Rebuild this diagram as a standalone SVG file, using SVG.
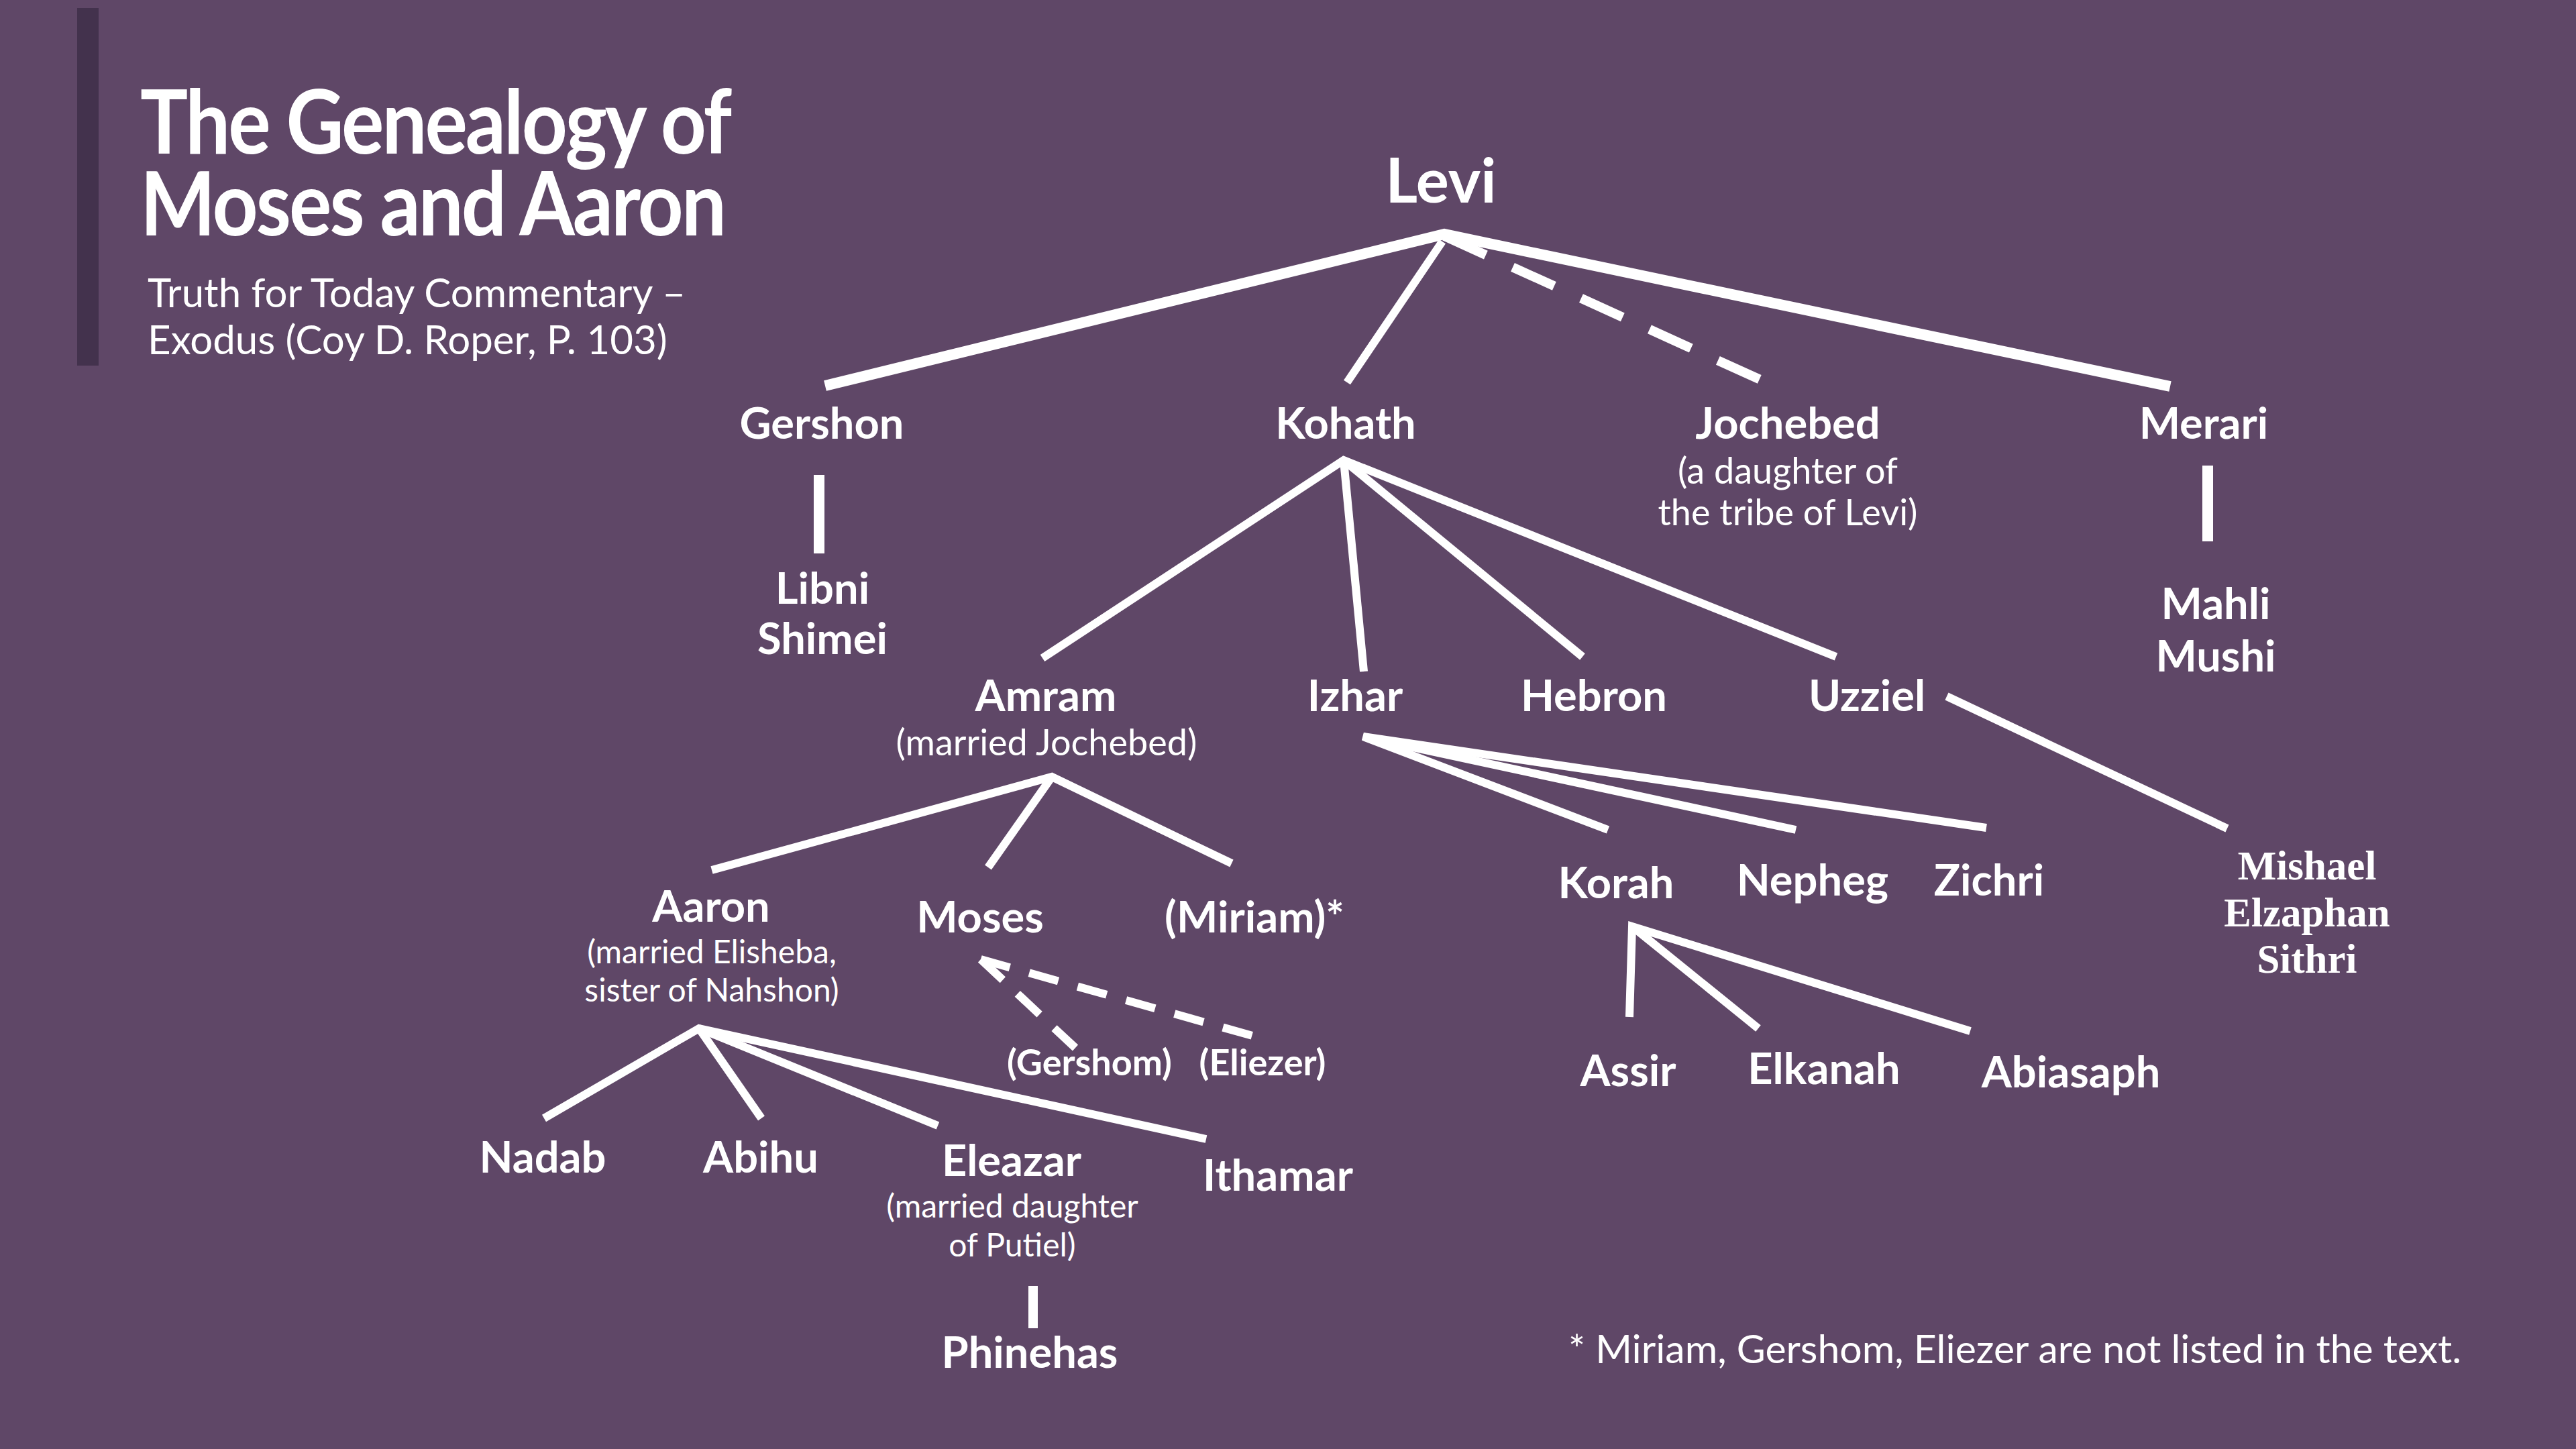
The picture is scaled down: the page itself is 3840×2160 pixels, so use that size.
<svg xmlns="http://www.w3.org/2000/svg" width="3840" height="2160" viewBox="0 0 3840 2160">
<style>
.n{font-family:Lato,"Liberation Sans",sans-serif;font-weight:700;font-size:65px;fill:#fff;text-anchor:middle}
.s{font-family:Lato,"Liberation Sans",sans-serif;font-weight:400;font-size:54px;fill:#fff;text-anchor:middle}
.s2{font-family:Lato,"Liberation Sans",sans-serif;font-weight:400;font-size:48px;fill:#fff;text-anchor:middle}
.sm{font-family:Lato,"Liberation Sans",sans-serif;font-weight:700;font-size:54px;fill:#fff;text-anchor:middle}
.sf{font-family:"Liberation Serif","DejaVu Serif",serif;font-weight:700;font-size:61px;fill:#fff;text-anchor:middle}
.ti{font-family:Lato,"Liberation Sans",sans-serif;font-weight:700;font-size:132px;fill:#fff}
.st{font-family:Lato,"Liberation Sans",sans-serif;font-weight:400;font-size:60px;fill:#fff}
.l{stroke:#fff;stroke-width:12;fill:none;stroke-linecap:butt;stroke-linejoin:miter}
.t{stroke-width:16}
.p{stroke-width:14}
.d1{stroke-width:14;stroke-dasharray:68 44}
.d2{stroke-width:12;stroke-dasharray:45 30}
</style>
<rect width="3840" height="2160" fill="#5f4767"/>
<rect x="115" y="12" width="32" height="533" fill="#43324d"/>
<g id="title">
<g transform="translate(209,0) scale(0.9,1)">
<text class="ti" x="0" y="229" textLength="980" lengthAdjust="spacing">The Genealogy of</text>
<text class="ti" x="0" y="351" textLength="971" lengthAdjust="spacing">Moses and Aaron</text>
</g>
<text class="st" x="220" y="458">Truth for Today Commentary –</text>
<text class="st" x="220" y="528">Exodus (Coy D. Roper, P. 103)</text>
</g>
<g id="connectors">
<polyline class="l t" points="1230,575 2153,349 3235,576"/>
<line class="l" x1="2150" y1="360" x2="2008" y2="570"/>
<line class="l d1" x1="2153" y1="352" x2="2624" y2="566"/>
<line class="l t" x1="1221" y1="708" x2="1221" y2="825"/>
<line class="l t" x1="3291" y1="694" x2="3291" y2="807"/>
<polyline class="l" points="1554,981 2003,686 2737,979"/>
<line class="l" x1="2003" y1="686" x2="2033" y2="1001"/>
<line class="l" x1="2003" y1="686" x2="2359" y2="979"/>
<line class="l" x1="2902" y1="1038" x2="3320" y2="1235"/>
<polyline class="l" points="2397,1237 2032,1098 2961,1234"/>
<line class="l" x1="2032" y1="1098" x2="2677" y2="1237"/>
<polyline class="l" points="1061,1297 1568,1158 1836,1287"/>
<line class="l" x1="1568" y1="1158" x2="1473" y2="1293"/>
<line class="l d2" x1="1462" y1="1430" x2="1603" y2="1562"/>
<line class="l d2" x1="1462" y1="1430" x2="1867" y2="1544"/>
<polyline class="l" points="811,1667 1042,1533 1798,1698"/>
<line class="l" x1="1042" y1="1533" x2="1135" y2="1667"/>
<line class="l" x1="1042" y1="1533" x2="1398" y2="1678"/>
<line class="l p" x1="1540" y1="1917" x2="1540" y2="1980"/>
<polyline class="l" points="2429,1516 2433,1381 2937,1537"/>
<line class="l" x1="2433" y1="1381" x2="2621" y2="1533"/>
</g>
<g id="levi"><text class="n" x="2148" y="302" style="font-size:92px">Levi</text></g>
<g id="gershon"><text class="n" x="1225" y="654">Gershon</text></g>
<g id="kohath"><text class="n" x="2006" y="654">Kohath</text></g>
<g id="jochebed"><text class="n" x="2665" y="654">Jochebed</text><text class="s" x="2665" y="721">(a daughter of</text><text class="s" x="2665" y="783">the tribe of Levi)</text></g>
<g id="merari"><text class="n" x="3285" y="654">Merari</text></g>
<g id="libni"><text class="n" x="1226" y="900">Libni</text><text class="n" x="1226" y="975">Shimei</text></g>
<g id="mahli"><text class="n" x="3303" y="923">Mahli</text><text class="n" x="3303" y="1001">Mushi</text></g>
<g id="amram"><text class="n" x="1559" y="1060">Amram</text><text class="s" x="1560" y="1126">(married Jochebed)</text></g>
<g id="izhar"><text class="n" x="2020" y="1060">Izhar</text></g>
<g id="hebron"><text class="n" x="2376" y="1060">Hebron</text></g>
<g id="uzziel"><text class="n" x="2783" y="1060">Uzziel</text></g>
<g id="aaron"><text class="n" x="1060" y="1374">Aaron</text><text class="s2" x="1061" y="1436">(married Elisheba,</text><text class="s2" x="1061" y="1493">sister of Nahshon)</text></g>
<g id="moses"><text class="n" x="1461" y="1390">Moses</text></g>
<g id="miriam"><text class="n" x="1870" y="1390">(Miriam)*</text></g>
<g id="gershom"><text class="sm" x="1624" y="1603">(Gershom)</text></g>
<g id="eliezer"><text class="sm" x="1882" y="1603">(Eliezer)</text></g>
<g id="nadab"><text class="n" x="809" y="1748">Nadab</text></g>
<g id="abihu"><text class="n" x="1134" y="1748">Abihu</text></g>
<g id="eleazar"><text class="n" x="1508" y="1753">Eleazar</text><text class="s2" x="1509" y="1815">(married daughter</text><text class="s2" x="1509" y="1873">of Putiel)</text></g>
<g id="ithamar"><text class="n" x="1905" y="1775">Ithamar</text></g>
<g id="phinehas"><text class="n" x="1535" y="2039">Phinehas</text></g>
<g id="korah"><text class="n" x="2409" y="1339">Korah</text></g>
<g id="nepheg"><text class="n" x="2702" y="1335">Nepheg</text></g>
<g id="zichri"><text class="n" x="2965" y="1335">Zichri</text></g>
<g id="mishael"><text class="sf" x="3439" y="1311">Mishael</text><text class="sf" x="3439" y="1381">Elzaphan</text><text class="sf" x="3439" y="1450">Sithri</text></g>
<g id="assir"><text class="n" x="2427" y="1619">Assir</text></g>
<g id="elkanah"><text class="n" x="2719" y="1616">Elkanah</text></g>
<g id="abiasaph"><text class="n" x="3087" y="1621">Abiasaph</text></g>
<g id="footnote"><text class="st" x="2338" y="2032" style="font-size:59px">* Miriam, Gershom, Eliezer are not listed in the text.</text></g>
</svg>
